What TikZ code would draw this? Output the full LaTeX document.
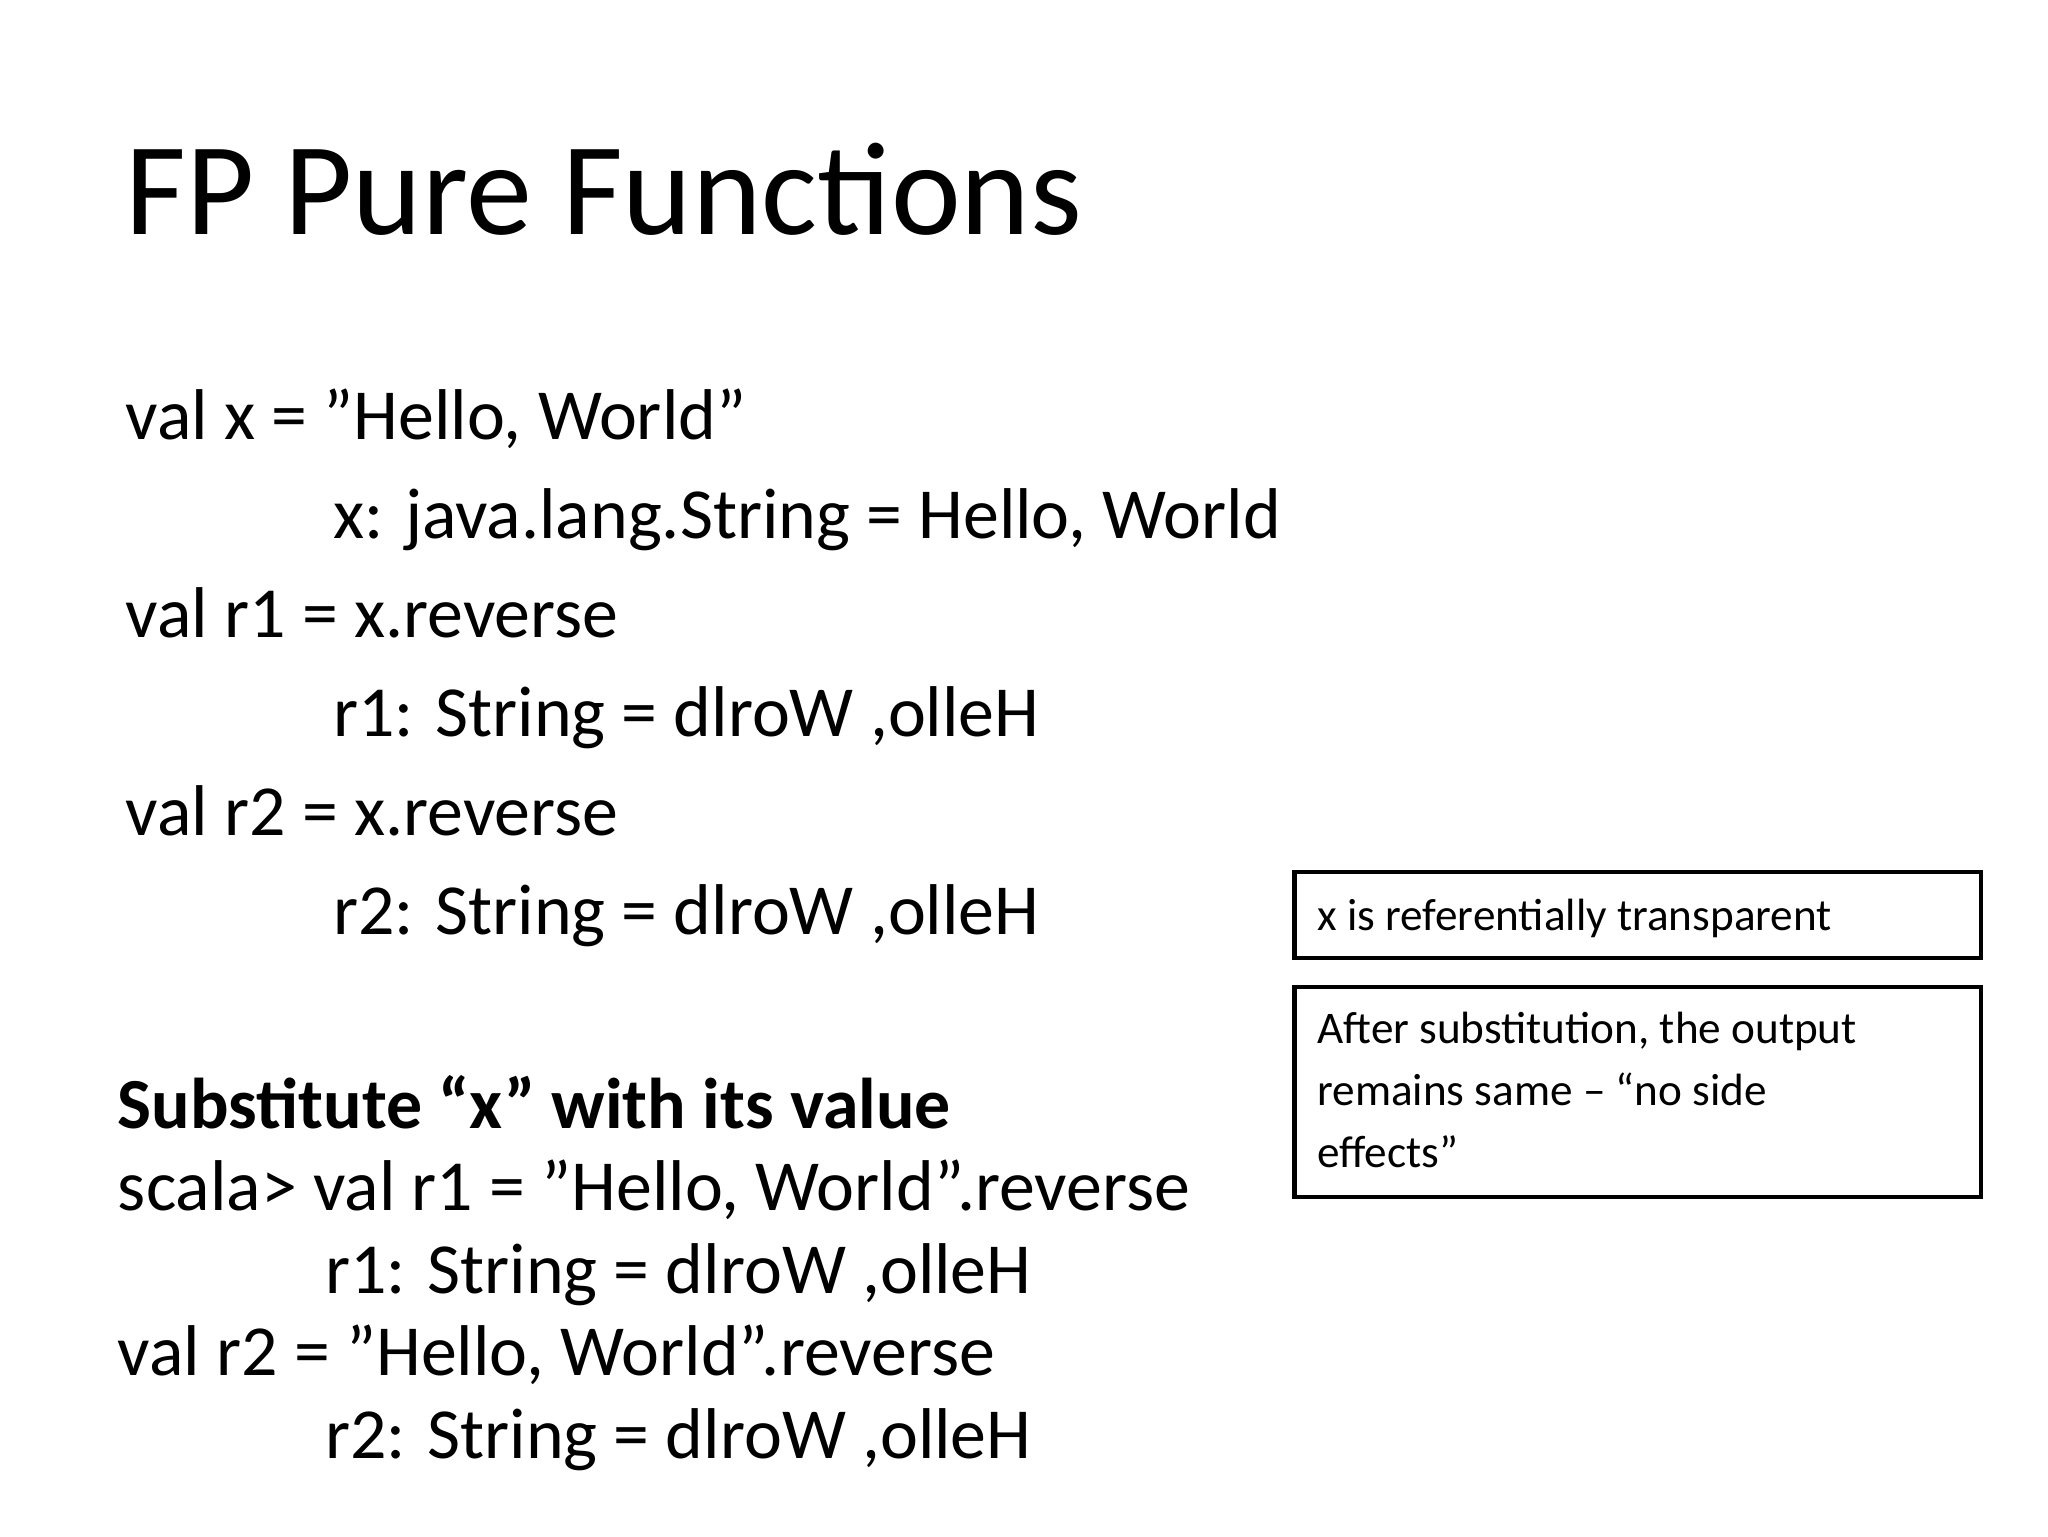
\documentclass[tikz,border=0pt]{standalone}
\usepackage{fontspec}
\setmainfont{Carlito}
\begin{document}
\begin{tikzpicture}[x=0.02cm,y=-0.02cm,
  body/.style={anchor=base west,inner sep=0,font=\fontsize{31}{37}\selectfont},
  small/.style={anchor=base west,inner sep=0,font=\fontsize{19.5}{24}\selectfont},
  box/.style={draw,line width=1.8pt}]
\useasboundingbox (0,0) rectangle (1552,1164);
\node[anchor=base west,inner sep=0,font=\fontsize{57}{68}\selectfont] (title) at (95,178) {FP Pure Functions};
\node[body] (l1) at (95,333) {val x = "Hello, World"};
\node[body] (l2) at (252,408) {x: java.lang.String = Hello, World};
\node[body] (l3) at (95,483) {val r1 = x.reverse};
\node[body] (l4) at (252,558) {r1: String = dlroW ,olleH};
\node[body] (l5) at (95,633) {val r2 = x.reverse};
\node[body] (l6) at (252,708) {r2: String = dlroW ,olleH};
\node[body,font=\fontsize{31}{37}\selectfont\bfseries] (s1) at (89,855) {Substitute “x” with its value};
\node[body] (s2) at (89,917) {scala> val r1 = "Hello, World".reverse};
\node[body] (s3) at (246,980) {r1: String = dlroW ,olleH};
\node[body] (s4) at (89,1042) {val r2 = "Hello, World".reverse};
\node[body] (s5) at (246,1105) {r2: String = dlroW ,olleH};
\draw[box] (981,661) rectangle (1501,726);
\draw[box] (981,748) rectangle (1501,907);
\node[small] (b1) at (998,705) {x is referentially transparent};
\node[small] (b2) at (998,791) {After substitution, the output};
\node[small] (b3) at (998,838) {remains same – “no side};
\node[small] (b4) at (998,885) {effects”};
\end{tikzpicture}
\end{document}
